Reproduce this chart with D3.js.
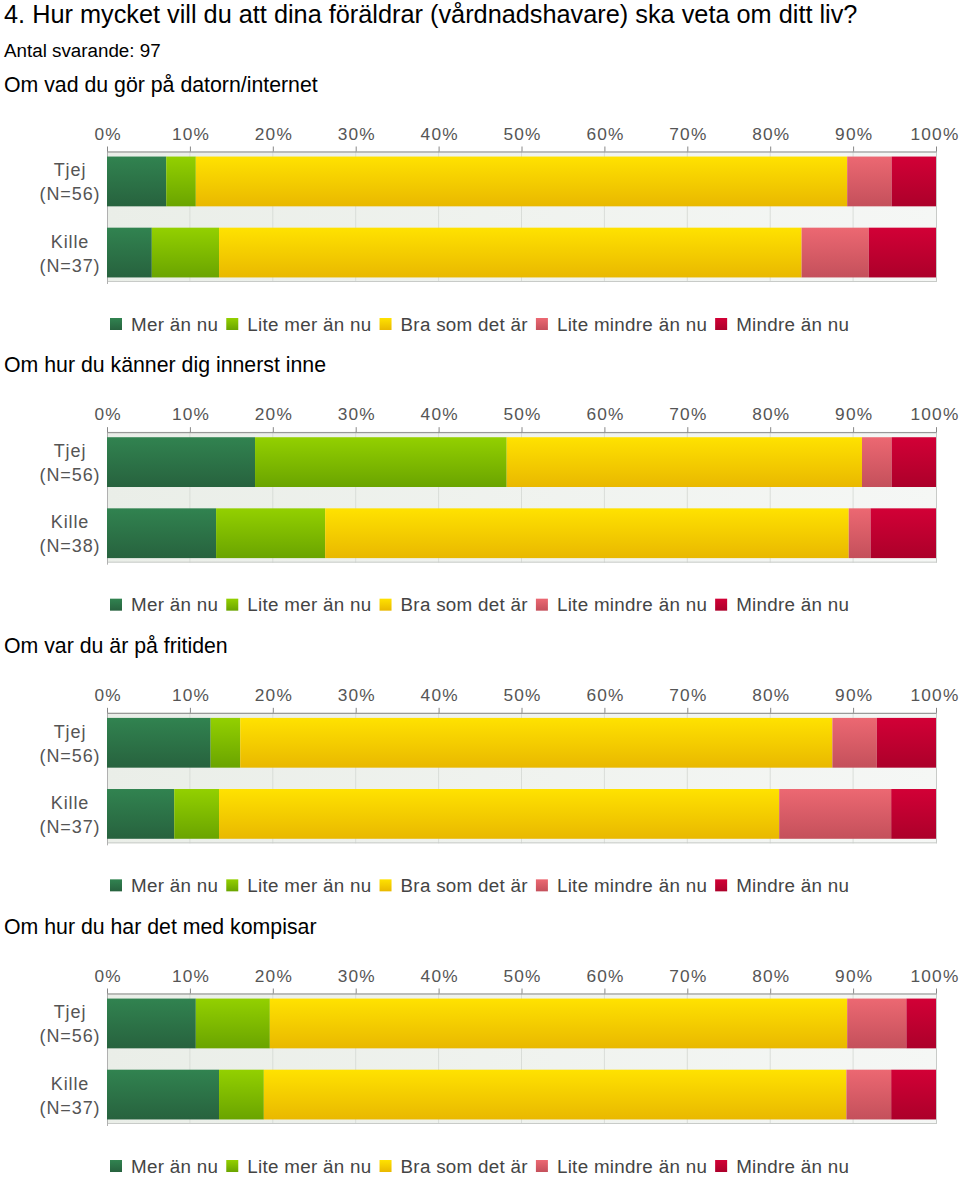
<!DOCTYPE html>
<html>
<head>
<meta charset="utf-8">
<script src="https://cdn.jsdelivr.net/npm/d3@7"></script>
<style>
  html, body { margin: 0; padding: 0; background: #fff; }
  svg { display: block; }
</style>
</head>
<body>
<script>
// ---------- data ----------
const pageTitle = "4. Hur mycket vill du att dina föräldrar (vårdnadshavare) ska veta om ditt liv?";
const respondents = "Antal svarande: 97";
const sectionTitles = [
  "Om vad du gör på datorn/internet",
  "Om hur du känner dig innerst inne",
  "Om var du är på fritiden",
  "Om hur du har det med kompisar"
];
const answerCategories = ["Mer än nu", "Lite mer än nu", "Bra som det är", "Lite mindre än nu", "Mindre än nu"];
const groupNames = ["Tjej", "Kille"];
const nTjej = [56, 56, 56, 56];
const nKille = [37, 38, 37, 37];
// answer counts per section, in the order of answerCategories
const tjejCounts = [
  [4, 2, 44, 3, 3],
  [10, 17, 24, 2, 3],
  [7, 2, 40, 3, 4],
  [6, 5, 39, 4, 2]
];
const killeCounts = [
  [2, 3, 26, 3, 3],
  [5, 5, 24, 1, 3],
  [3, 2, 25, 5, 2],
  [5, 2, 26, 2, 2]
];
const tickValues = [0, 0.1, 0.2, 0.3, 0.4, 0.5, 0.6, 0.7, 0.8, 0.9, 1];
const tickLabels = ["0%", "10%", "20%", "30%", "40%", "50%", "60%", "70%", "80%", "90%", "100%"];

// ---------- styles ----------
const colorTop = ["#318350", "#93d000", "#ffe200", "#ec6872", "#d20036"];
const colorBot = ["#27623e", "#6aa400", "#e9b800", "#c4505b", "#ac002a"];

const W = 960, H = 1181;
const svg = d3.select("body").append("svg").attr("width", W).attr("height", H);
const defs = svg.append("defs");
answerCategories.forEach((c, i) => {
  const g = defs.append("linearGradient").attr("id", "g" + i)
    .attr("x1", 0).attr("y1", 0).attr("x2", 0).attr("y2", 1);
  g.append("stop").attr("offset", "0%").attr("stop-color", colorTop[i]);
  g.append("stop").attr("offset", "100%").attr("stop-color", colorBot[i]);
});
const bg = defs.append("linearGradient").attr("id", "bg").attr("x1", 0).attr("x2", 1).attr("y1", 0).attr("y2", 0);
bg.append("stop").attr("offset", "0%").attr("stop-color", "#eaeee8");
bg.append("stop").attr("offset", "100%").attr("stop-color", "#f5f7f5");

const FONT = "'Liberation Sans', Arial, sans-serif";

svg.append("text").attr("x", 4).attr("y", 23)
  .attr("font-family", FONT).attr("font-size", 25.3).attr("fill", "#000").text(pageTitle);
svg.append("text").attr("x", 4).attr("y", 57)
  .attr("font-family", FONT).attr("font-size", 18.8).attr("fill", "#000").text(respondents);

const x = d3.scaleLinear().domain([0, 1]).range([107, 936]);
const step = 280.67;
const stack = d3.stack().keys(d3.range(answerCategories.length)).offset(d3.stackOffsetExpand);

sectionTitles.forEach((title, s) => {
  const oy = s * step;
  const g = svg.append("g").attr("transform", `translate(0,${oy})`);

  g.append("text").attr("x", 4).attr("y", 91.5)
    .attr("font-family", FONT).attr("font-size", 21.3).attr("fill", "#000").text(title);

  const y = d3.scaleBand().domain(groupNames).range([153, 281]).paddingInner(0.3).paddingOuter(0.05);

  // plot background
  g.append("rect").attr("x", x(0)).attr("y", 151).attr("width", x(1) - x(0)).attr("height", 131)
    .attr("fill", "url(#bg)");
  // grid lines
  g.append("g").selectAll("line").data(tickValues.slice(1, -1)).join("line")
    .attr("x1", d => x(d)).attr("x2", d => x(d)).attr("y1", 151).attr("y2", 282)
    .attr("stroke", "#d9ddd8").attr("stroke-width", 1);
  // frame
  g.append("line").attr("x1", x(1) + 0.5).attr("x2", x(1) + 0.5).attr("y1", 151).attr("y2", 282)
    .attr("stroke", "#c8cbc8");
  g.append("line").attr("x1", x(0)).attr("x2", x(1) + 1).attr("y1", 281.5).attr("y2", 281.5)
    .attr("stroke", "#c8cbc8");
  g.append("line").attr("x1", x(0) + 0.5).attr("x2", x(0) + 0.5).attr("y1", 151).attr("y2", 284)
    .attr("stroke", "#b0b0b0");

  const rows = [
    { group: groupNames[0], n: nTjej[s], counts: tjejCounts[s] },
    { group: groupNames[1], n: nKille[s], counts: killeCounts[s] }
  ];
  const tableRows = rows.map(r => Object.assign({}, r.counts));
  const series = stack(tableRows);

  series.forEach((ser, k) => {
    g.append("g").selectAll("rect").data(ser).join("rect")
      .attr("x", d => x(d[0]))
      .attr("width", d => x(d[1]) - x(d[0]))
      .attr("y", (d, i) => y(groupNames[i]))
      .attr("height", y.bandwidth())
      .attr("fill", `url(#g${k})`);
  });

  // top axis
  const axis = d3.axisTop(x).tickValues(tickValues).tickFormat((d, i) => tickLabels[i])
    .tickSize(5).tickSizeOuter(0).tickPadding(7);
  const ax = g.append("g").attr("transform", "translate(0,151.5)").call(axis);
  ax.select(".domain").attr("stroke", "#888");
  ax.selectAll(".tick line").attr("stroke", "#888");
  ax.selectAll(".tick text").attr("font-family", FONT).attr("font-size", 17.3)
    .attr("fill", "#555").attr("letter-spacing", "1.2px")
    .attr("dx", (d, i) => i === tickValues.length - 1 ? -1.5 : 0.6);

  // category labels
  rows.forEach(r => {
    const cy = y(r.group) + y.bandwidth() / 2;
    g.append("text").attr("x", 70).attr("y", cy - 5).attr("text-anchor", "middle")
      .attr("font-family", FONT).attr("font-size", 18).attr("fill", "#555")
      .attr("letter-spacing", "0.9px").text(r.group);
    g.append("text").attr("x", 70).attr("y", cy + 19).attr("text-anchor", "middle")
      .attr("font-family", FONT).attr("font-size", 18).attr("fill", "#555")
      .attr("letter-spacing", "0.9px").text(`(N=${r.n})`);
  });

  // legend
  const lg = g.append("g").attr("transform", "translate(110,318)");
  let lx = 0;
  answerCategories.forEach((c, k) => {
    lg.append("rect").attr("x", lx).attr("y", 0).attr("width", 12).attr("height", 12)
      .attr("fill", `url(#g${k})`);
    const t = lg.append("text").attr("x", lx + 21).attr("y", 12.5)
      .attr("font-family", FONT).attr("font-size", 18.8).attr("fill", "#444")
      .attr("letter-spacing", "0.3px").text(c);
    const w = t.node().getComputedTextLength();
    lx = lx + 21 + w + 8;
  });
});
</script>
</body>
</html>
